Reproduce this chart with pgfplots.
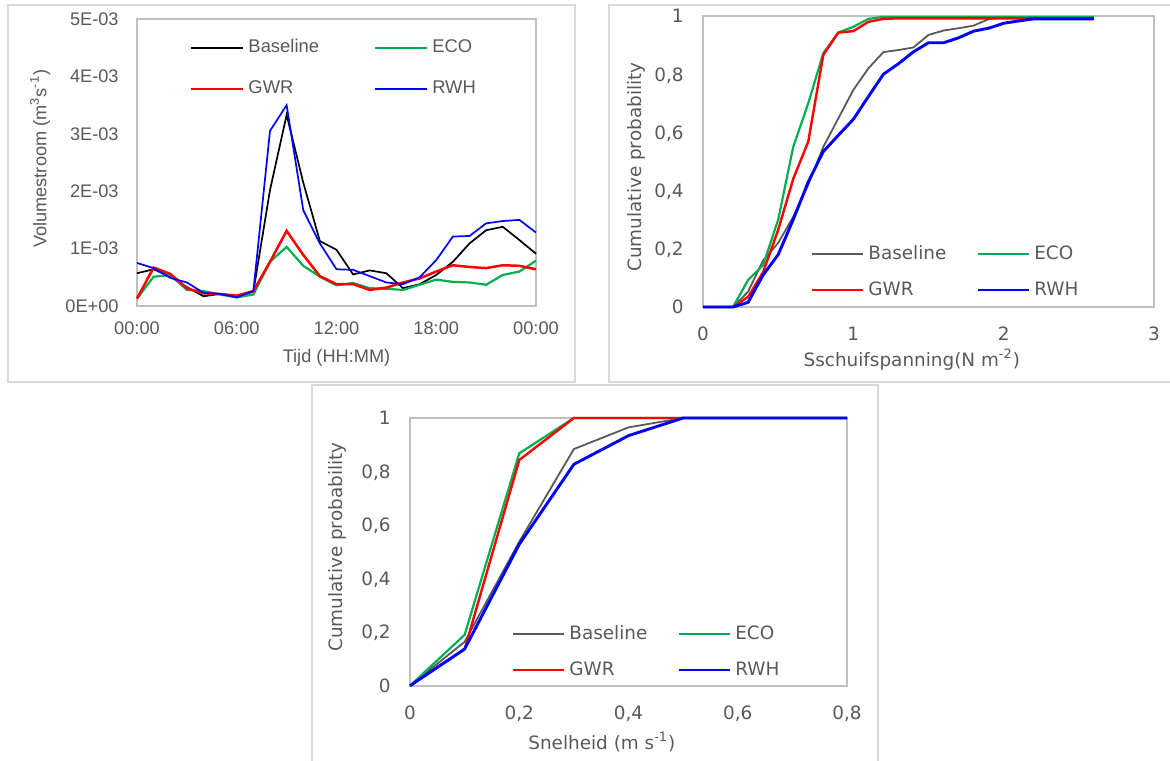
\documentclass[border=0pt]{standalone}
\usepackage{pgfplots}
\pgfplotsset{compat=1.18}
\usepackage{fontspec}
\newfontfamily\fa{Liberation Sans}
\newfontfamily\fb{DejaVu Sans}
\definecolor{txt}{HTML}{595959}
\definecolor{axl}{HTML}{BFBFBF}
\definecolor{frm}{HTML}{D9D9D9}
\definecolor{eco}{HTML}{00B050}
\definecolor{gwr}{HTML}{FF0000}
\definecolor{rwh}{HTML}{0000FF}
\definecolor{basegray}{HTML}{595959}
\pgfplotsset{
  common/.style={
    anchor=south west, scale only axis, clip=false,
    axis line style={axl, line width=0.9pt},
    major tick length=0pt, tick style={draw=none},
    scaled ticks=false,
    /pgf/number format/assume math mode=true,
    legend columns=2, legend cell align=left,
    legend image code/.code={\draw[##1] (0pt,0pt) -- (26pt,0pt);},
  },
}
\begin{document}
\begin{tikzpicture}[x=1pt,y=1pt]
\path[use as bounding box] (0pt,0pt) rectangle (585pt,380pt);
\draw[frm,line width=0.6pt] (4pt,189pt) rectangle (287.5pt,377.5pt);
\draw[frm,line width=0.6pt] (590pt,189pt) -- (304.5pt,189pt) -- (304.5pt,377.5pt) -- (590pt,377.5pt);
\draw[frm,line width=0.6pt] (156pt,-5pt) -- (156pt,187.5pt) -- (439pt,187.5pt) -- (439pt,-5pt);

% ---------- Panel 1 ----------
\begin{axis}[common,
  at={(68.5pt,227pt)}, width=199.5pt, height=143.5pt,
  xmin=0, xmax=24, ymin=0, ymax=0.005,
  xtick={0,6,12,18,24}, xticklabels={00:00,06:00,12:00,18:00,00:00},
  ytick={0,0.001,0.002,0.003,0.004,0.005},
  yticklabels={0E+00,1E-03,2E-03,3E-03,4E-03,5E-03},
  yticklabel style={font=\fa\fontsize{9.1}{11}\selectfont, text=txt, inner sep=0pt, xshift=-9pt, text depth=0pt},
  xticklabel style={font=\fa\fontsize{9.1}{11}\selectfont, text=txt, inner sep=0pt, yshift=-7.85pt},
  xlabel={Tijd (HH:MM)},
  ylabel={Volumestroom (m\textsuperscript{3}s\textsuperscript{-1})},
  xlabel style={at={(axis description cs:0.5,0)}, anchor=base, yshift=-28.5pt, font=\fa\fontsize{9.1}{11}\selectfont, text=txt},
  ylabel style={at={(axis description cs:-0.243,0.513)}, anchor=center, font=\fa\fontsize{9.1}{11}\selectfont, text=txt},
  legend style={at={(axis description cs:0.1328,0.942)}, anchor=north west, draw=none, fill=none, inner sep=0pt, outer sep=0pt,
    font=\fa\fontsize{9.2}{11}\selectfont, text=txt, row sep=8.5pt,
    /tikz/every odd column/.append style={column sep=0pt},
    /tikz/every even column/.append style={column sep=25.5pt}},
]
\addplot[black, line width=0.85pt] coordinates {
(0,0.00057) (1,0.00064) (2,0.00051) (3,0.00033) (4,0.00017) (5,0.00021) (6,0.00016) (7,0.00025)
(8,0.00202) (9,0.00333) (10,0.00215) (11,0.00113) (12,0.00098) (13,0.00055) (14,0.00062) (15,0.00057)
(16,0.00031) (17,0.00038) (18,0.00054) (19,0.00077) (20,0.00109) (21,0.00132) (22,0.00138) (23,0.00115) (24,0.00091)};
\addlegendentry{Baseline}
\addplot[eco, line width=1.1pt] coordinates {
(0,0.00013) (1,0.00051) (2,0.00054) (3,0.00028) (4,0.00026) (5,0.00020) (6,0.00015) (7,0.00020)
(8,0.00077) (9,0.00103) (10,0.00070) (11,0.00051) (12,0.00036) (13,0.00040) (14,0.00031) (15,0.00030)
(16,0.00028) (17,0.00037) (18,0.00046) (19,0.00042) (20,0.00041) (21,0.00037) (22,0.00054) (23,0.00060) (24,0.00079)};
\addlegendentry{ECO}
\addplot[gwr, line width=1.25pt] coordinates {
(0,0.00013) (1,0.00067) (2,0.00056) (3,0.00031) (4,0.00022) (5,0.00021) (6,0.00018) (7,0.00026)
(8,0.00077) (9,0.00131) (10,0.00089) (11,0.00052) (12,0.00038) (13,0.00038) (14,0.00028) (15,0.00032)
(16,0.00041) (17,0.00048) (18,0.00060) (19,0.00071) (20,0.00068) (21,0.00066) (22,0.00071) (23,0.00070) (24,0.00064)};
\addlegendentry{GWR}
\addplot[rwh, line width=0.85pt] coordinates {
(0,0.00075) (1,0.00066) (2,0.00049) (3,0.00041) (4,0.00023) (5,0.00021) (6,0.00015) (7,0.00026)
(8,0.00305) (9,0.00350) (10,0.00167) (11,0.00109) (12,0.00064) (13,0.00063) (14,0.00052) (15,0.00041)
(16,0.00038) (17,0.00050) (18,0.00080) (19,0.00121) (20,0.00122) (21,0.00144) (22,0.00148) (23,0.00150) (24,0.00128)};
\addlegendentry{RWH}
\end{axis}

% ---------- Panel 2 ----------
\begin{axis}[common,
  at={(351.5pt,226.5pt)}, width=225.5pt, height=145.5pt,
  xmin=0, xmax=3, ymin=0, ymax=1,
  xtick={0,1,2,3}, xticklabels={0,1,2,3},
  ytick={0,0.2,0.4,0.6,0.8,1}, yticklabels={0,{0,2},{0,4},{0,6},{0,8},1},
  yticklabel style={font=\fb\fontsize{9.2}{11}\selectfont, text=txt, inner sep=0pt, xshift=-9.5pt, text depth=0pt},
  xticklabel style={font=\fb\fontsize{9.2}{11}\selectfont, text=txt, inner sep=0pt, yshift=-9.85pt},
  xlabel={Sschuifspanning(N m\textsuperscript{-2})},
  ylabel={Cumulative probability},
  xlabel style={at={(axis description cs:0.463,0)}, anchor=base, yshift=-29.8pt, font=\fb\fontsize{9.2}{11}\selectfont, text=txt},
  ylabel style={at={(axis description cs:-0.1486,0.481)}, anchor=center, font=\fb\fontsize{9.2}{11}\selectfont, text=txt},
  legend style={at={(axis description cs:0.2395,0.2243)}, anchor=north west, draw=none, fill=none, inner sep=0pt, outer sep=0pt,
    font=\fb\fontsize{9.2}{11}\selectfont, text=txt, row sep=5.5pt,
    /tikz/every odd column/.append style={column sep=0pt},
    /tikz/every even column/.append style={column sep=13pt}},
  legend image code/.code={\draw[#1] (0pt,0pt) -- (25.5pt,0pt);},
]
\addplot[basegray, line width=0.9pt] coordinates {
(0,0) (0.1,0) (0.2,0) (0.3,0.053) (0.4,0.16) (0.5,0.22) (0.6,0.31) (0.7,0.42) (0.8,0.55) (0.9,0.648)
(1.0,0.746) (1.1,0.82) (1.2,0.876) (1.3,0.883) (1.4,0.892) (1.5,0.935) (1.6,0.95) (1.7,0.958) (1.8,0.967)
(1.9,0.989) (2.0,0.995) (2.1,0.995) (2.2,0.995) (2.3,0.995) (2.4,0.995) (2.5,0.995) (2.6,0.995)};
\addlegendentry{Baseline}
\addplot[eco, line width=1.1pt] coordinates {
(0,0) (0.1,0) (0.2,0) (0.3,0.093) (0.4,0.144) (0.5,0.30) (0.6,0.55) (0.7,0.70) (0.8,0.872) (0.9,0.943)
(1.0,0.963) (1.1,0.99) (1.2,0.997) (1.3,0.997) (1.4,0.997) (1.5,0.997) (1.6,0.997) (1.7,0.997) (1.8,0.997)
(1.9,0.997) (2.0,0.997) (2.1,0.997) (2.2,0.997) (2.3,0.997) (2.4,0.997) (2.5,0.997) (2.6,0.997)};
\addlegendentry{ECO}
\addplot[gwr, line width=1.2pt] coordinates {
(0,0) (0.1,0) (0.2,0) (0.3,0.035) (0.4,0.12) (0.5,0.265) (0.6,0.44) (0.7,0.568) (0.8,0.866) (0.9,0.943)
(1.0,0.948) (1.1,0.98) (1.2,0.99) (1.3,0.992) (1.4,0.992) (1.5,0.992) (1.6,0.992) (1.7,0.992) (1.8,0.992)
(1.9,0.992) (2.0,0.992) (2.1,0.992) (2.2,0.992) (2.3,0.992) (2.4,0.992) (2.5,0.992) (2.6,0.992)};
\addlegendentry{GWR}
\addplot[rwh, line width=1.45pt] coordinates {
(0,0) (0.1,0) (0.2,0) (0.3,0.016) (0.4,0.11) (0.5,0.18) (0.6,0.30) (0.7,0.43) (0.8,0.534) (0.9,0.59)
(1.0,0.645) (1.1,0.723) (1.2,0.80) (1.3,0.836) (1.4,0.877) (1.5,0.908) (1.6,0.908) (1.7,0.925) (1.8,0.948)
(1.9,0.958) (2.0,0.975) (2.1,0.983) (2.2,0.99) (2.3,0.99) (2.4,0.99) (2.5,0.99) (2.6,0.99)};
\addlegendentry{RWH}
\end{axis}

% ---------- Panel 3 ----------
\begin{axis}[common,
  at={(205pt,37.15pt)}, width=218.5pt, height=133.85pt,
  xmin=0, xmax=0.8, ymin=0, ymax=1,
  xtick={0,0.2,0.4,0.6,0.8}, xticklabels={0,{0,2},{0,4},{0,6},{0,8}},
  ytick={0,0.2,0.4,0.6,0.8,1}, yticklabels={0,{0,2},{0,4},{0,6},{0,8},1},
  yticklabel style={font=\fb\fontsize{9.2}{11}\selectfont, text=txt, inner sep=0pt, xshift=-9.5pt, text depth=0pt},
  xticklabel style={font=\fb\fontsize{9.2}{11}\selectfont, text=txt, inner sep=0pt, yshift=-9.65pt},
  xlabel={Snelheid (m s\textsuperscript{-1})},
  ylabel={Cumulative probability},
  xlabel style={at={(axis description cs:0.439,0)}, anchor=base, yshift=-31.8pt, font=\fb\fontsize{9.2}{11}\selectfont, text=txt},
  ylabel style={at={(axis description cs:-0.165,0.518)}, anchor=center, font=\fb\fontsize{9.2}{11}\selectfont, text=txt},
  legend style={at={(axis description cs:0.2334,0.2392)}, anchor=north west, draw=none, fill=none, inner sep=0pt, outer sep=0pt,
    font=\fb\fontsize{9.2}{11}\selectfont, text=txt, row sep=5.5pt,
    /tikz/every odd column/.append style={column sep=0pt},
    /tikz/every even column/.append style={column sep=13pt}},
  legend image code/.code={\draw[#1] (0pt,0pt) -- (25.5pt,0pt);},
]
\addplot[basegray, line width=0.9pt] coordinates {
(0,0) (0.1,0.164) (0.2,0.538) (0.3,0.884) (0.4,0.965) (0.5,1) (0.6,1) (0.7,1) (0.8,1)};
\addlegendentry{Baseline}
\addplot[eco, line width=1.1pt] coordinates {
(0,0) (0.1,0.19) (0.2,0.868) (0.3,1) (0.4,1) (0.5,1) (0.6,1) (0.7,1) (0.8,1)};
\addlegendentry{ECO}
\addplot[gwr, line width=1.2pt] coordinates {
(0,0) (0.1,0.136) (0.2,0.843) (0.3,1) (0.4,1) (0.5,1) (0.6,1) (0.7,1) (0.8,1)};
\addlegendentry{GWR}
\addplot[rwh, line width=1.45pt] coordinates {
(0,0) (0.1,0.137) (0.2,0.528) (0.3,0.827) (0.4,0.934) (0.5,1) (0.6,1) (0.7,1) (0.8,1)};
\addlegendentry{RWH}
\end{axis}
\end{tikzpicture}
\end{document}
